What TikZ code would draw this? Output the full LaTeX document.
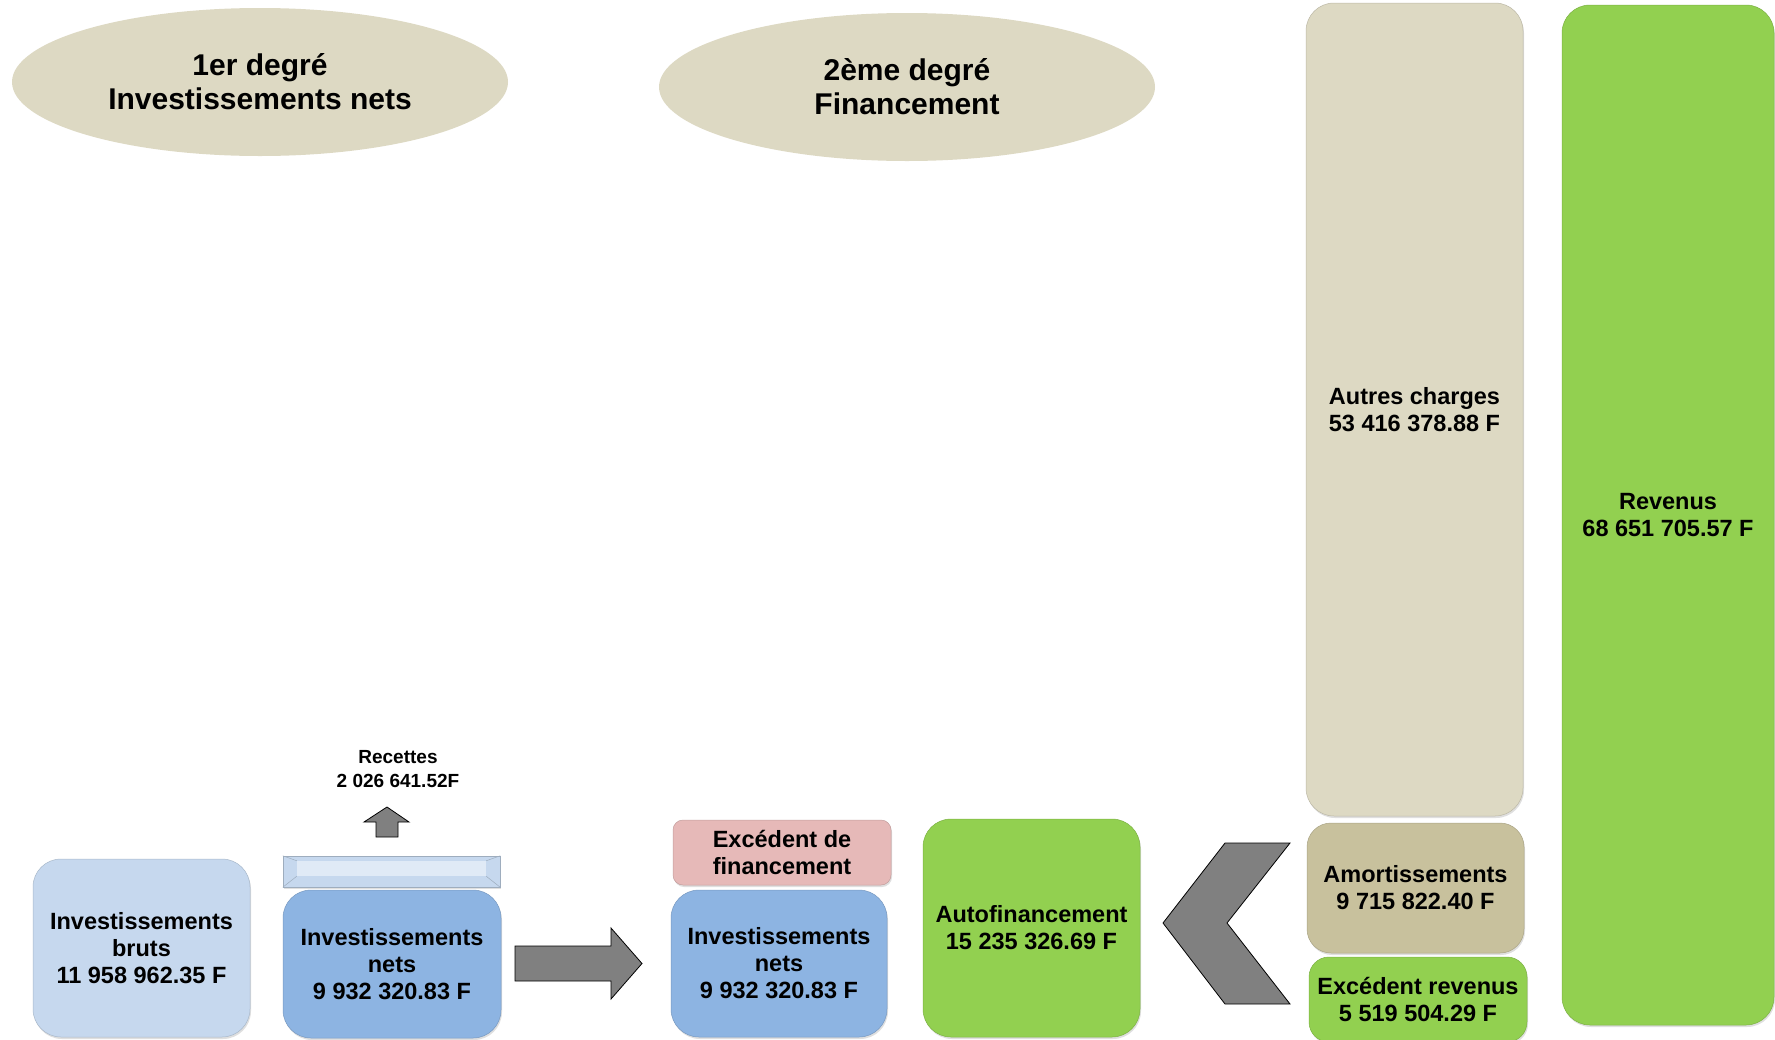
\documentclass[tikz,border=0pt]{standalone}
\usepackage{fontspec}
\setmainfont{Liberation Sans}
\usetikzlibrary{shapes.geometric,shadows}
\definecolor{tanlt}{HTML}{DDD9C3}
\definecolor{tandk}{HTML}{C8C19D}
\definecolor{bluelt}{HTML}{C6D8EE}
\definecolor{bluemd}{HTML}{8DB4E2}
\definecolor{pinkc}{HTML}{E6B9B8}
\definecolor{greenc}{HTML}{92D050}
\definecolor{arrowgray}{HTML}{808080}
\tikzset{
  box/.style={rounded corners=#1, align=center, inner sep=0pt,
    font=\bfseries\fontsize{23.5}{27}\selectfont,
    drop shadow={opacity=0.25, shadow xshift=1pt, shadow yshift=-2pt}},
  bluelbox/.style={box=28pt, fill=bluelt, draw=bluelt!85!black, line width=0.5pt},
  bluembox/.style={box=28pt, fill=bluemd, draw=bluemd!85!black, line width=0.5pt},
  greenbox/.style={box=28pt, fill=greenc, draw=greenc!85!black, line width=0.5pt},
  tanbox/.style={box=28pt, fill=tanlt, draw=tanlt!85!black, line width=0.5pt},
  tandbox/.style={box=24pt, fill=tandk, draw=tandk!85!black, line width=0.5pt},
  pinkbox/.style={box=10pt, fill=pinkc, draw=pinkc!85!black, line width=0.5pt},
  degree/.style={ellipse, fill=tanlt, align=center, inner sep=0pt,
    font=\bfseries\fontsize{30}{34}\selectfont},
  blockarrow/.style={fill=arrowgray, draw=black, line width=0.8pt, line join=miter},
  small/.style={align=center, font=\bfseries\fontsize{19}{24}\selectfont}
}
\begin{document}
\begin{tikzpicture}[x=1pt,y=-1pt]
\useasboundingbox (0,0) rectangle (1775,1039);
\clip (0,0) rectangle (1775,1039);

% ellipses
\node[degree, minimum width=496pt, minimum height=148pt] (deg1) at (260,82) {1er degré\\Investissements nets};
\node[degree, minimum width=496pt, minimum height=148pt] (deg2) at (907,87) {2ème degré\\Financement};

% first degree
\node[bluelbox, minimum width=217pt, minimum height=178pt] (bruts) at (141.5,948) {Investissements\\bruts\\11 958 962.35 F};
\node[bluembox, minimum width=218pt, minimum height=148pt] (nets1) at (392,964) {Investissements\\nets\\9 932 320.83 F};
\node[fill=bluelt, draw=bluelt!80!black, line width=0.5pt, minimum width=217pt, minimum height=31pt, inner sep=0pt,
  drop shadow={opacity=0.25, shadow xshift=1pt, shadow yshift=-2pt}] (bar) at (391.5,871.5) {};
\fill[bluelt!55!white] ([xshift=14pt,yshift=-5pt]bar.north west) rectangle ([xshift=-14pt,yshift=11pt]bar.south east);
\draw[bluelt!80!black, line width=0.5pt] (bar.north west) -- ([xshift=14pt,yshift=-5pt]bar.north west)
  (bar.north east) -- ([xshift=-14pt,yshift=-5pt]bar.north east)
  (bar.south west) -- ([xshift=14pt,yshift=11pt]bar.south west)
  (bar.south east) -- ([xshift=-14pt,yshift=11pt]bar.south east);

% up arrow and Recettes
\draw[blockarrow] (387,807) -- (409,822) -- (398,822) -- (398,837) -- (376,837) -- (376,822) -- (364,822) -- cycle;
\node[small] (recettes) at (398,769) {Recettes\\2 026 641.52F};

% right arrow
\draw[blockarrow] (515,946) -- (611,946) -- (611,928) -- (642,963.5) -- (611,999) -- (611,981) -- (515,981) -- cycle;

% second degree
\node[pinkbox, minimum width=218pt, minimum height=65pt] (excfin) at (782,852.5) {Excédent de\\financement};
\node[bluembox, minimum width=216pt, minimum height=147pt] (nets2) at (779,963.5) {Investissements\\nets\\9 932 320.83 F};
\node[greenbox, minimum width=217pt, minimum height=218pt] (autofin) at (1031.5,928) {Autofinancement\\15 235 326.69 F};

% chevron
\draw[blockarrow] (1163,923) -- (1225,843) -- (1290,843) -- (1227,923) -- (1290,1004) -- (1225,1004) -- cycle;

% right columns
\node[tanbox, minimum width=217pt, minimum height=813pt] (autres) at (1414.5,409.5) {Autres charges\\53 416 378.88 F};
\node[tandbox, minimum width=217pt, minimum height=130pt] (amort) at (1415.5,888) {Amortissements\\9 715 822.40 F};
\node[box=20pt, fill=greenc, draw=greenc!85!black, line width=0.5pt, minimum width=218pt, minimum height=85pt] (excrev) at (1418,999.5) {Excédent revenus\\5 519 504.29 F};
\node[greenbox, minimum width=212pt, minimum height=1020pt] (revenus) at (1668,515) {Revenus\\68 651 705.57 F};
\end{tikzpicture}
\end{document}
